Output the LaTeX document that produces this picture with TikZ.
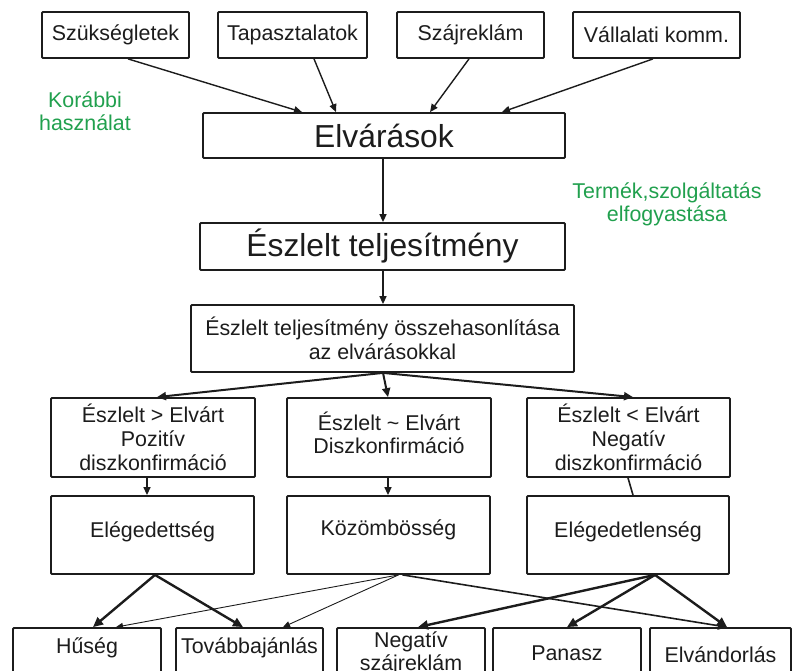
\documentclass[tikz,border=0pt]{standalone}
\usepackage{fontspec}
\setmainfont{Liberation Sans}
\usetikzlibrary{arrows.meta}
\definecolor{ink}{HTML}{1C1C1C}
\definecolor{leafgreen}{HTML}{21A04E}

\tikzset{
  box/.style={draw=ink, line width=1.8pt, rounded corners=1pt, inner sep=0pt,
    text=ink, align=center, font=\fontsize{21.4}{24}\selectfont},
  bigbox/.style={box, font=\fontsize{31.8}{34}\selectfont},
  label/.style={inner sep=0pt, text=ink, align=center, font=\fontsize{21.4}{23}\selectfont},
  note/.style={inner sep=0pt, text=leafgreen, align=center, font=\fontsize{21.4}{23.5}\selectfont},
  link/.style={draw=ink, line width=1.4pt, -{Triangle[length=8pt,width=7pt]}},
  midlink/.style={draw=ink, line width=2pt, -{Triangle[length=9pt,width=8pt]}},
  boldlink/.style={draw=ink, line width=2.4pt, -{Triangle[length=10pt,width=9pt]}},
  thinlink/.style={draw=ink, line width=0.9pt, -{Triangle[length=7pt,width=6pt]}},
  plainlink/.style={draw=ink, line width=1.6pt},
}

\begin{document}
\begin{tikzpicture}[x=1pt, y=-1pt]
  \useasboundingbox (0,0) rectangle (794,671);
  \clip (0,0) rectangle (794,671);

  % sources of expectations
  \node[box, minimum width=147pt, minimum height=46pt] (sz)  at (115.5,35) {Szükségletek};
  \node[box, minimum width=149pt, minimum height=46pt] (ta)  at (292.5,35) {Tapasztalatok};
  \node[box, minimum width=147pt, minimum height=46pt] (szr) at (470.5,35) {Szájreklám};
  \node[box, minimum width=167pt, minimum height=46pt] (vk)  at (656.5,35) {Vállalati komm.};

  \node[note] (kh) at (85,111) {Korábbi\\használat};

  \node[bigbox, minimum width=362pt, minimum height=45pt] (elv) at (384,135.5) {Elvárások};

  \node[note] (tsz) at (667,204.5) {Termék,szolgáltatás\\elfogyastása};

  \node[bigbox, minimum width=365pt, minimum height=47pt] (esz) at (382.5,246.5) {Észlelt teljesítmény};

  \node[box, minimum width=383pt, minimum height=67pt] (cmp) at (382.5,338.5)
    {Észlelt teljesítmény összehasonlítása\\az elvárásokkal};

  % outcomes of the comparison
  \node[box, minimum width=204pt, minimum height=79pt] (pos) at (153,437.5)
    {Észlelt > Elvárt\\Pozitív\\diszkonfirmáció};
  \node[box, minimum width=204pt, minimum height=79pt] (neu) at (389,437.5) {};
  \node[label] (tneu) at (389,433) {Észlelt \textasciitilde{} Elvárt\\Diszkonfirmáció};
  \node[box, minimum width=203pt, minimum height=79pt] (neg) at (628.5,437.5)
    {Észlelt < Elvárt\\Negatív\\diszkonfirmáció};

  \node[box, minimum width=203pt, minimum height=78pt] (sat) at (152.5,535) {};
  \node[box, minimum width=203pt, minimum height=78pt] (ind) at (388.5,535) {};
  \node[box, minimum width=202pt, minimum height=78pt] (dis) at (628,535) {};
  \node[label] (tsat) at (152.5,532) {Elégedettség};
  \node[label] (tind) at (388.5,530) {Közömbösség};
  \node[label] (tdis) at (628,532)   {Elégedetlenség};

  % behavioural consequences (lower part runs past the edge)
  \node[box, minimum width=148pt, minimum height=72pt] (hus)    at (87,664) {};
  \node[box, minimum width=147pt, minimum height=72pt] (tov)    at (249.5,664) {};
  \node[box, minimum width=148pt, minimum height=72pt] (nsz)    at (411,664) {};
  \node[box, minimum width=148pt, minimum height=72pt] (pan)    at (567,664) {};
  \node[box, minimum width=141pt, minimum height=72pt] (elvand) at (720.5,664) {};

  \node[label] (thus)    at (87,648)    {Hűség};
  \node[label] (ttov)    at (249.5,648) {Továbbajánlás};
  \node[label] (tnsz)    at (411,653.5) {Negatív\\szájreklám};
  \node[label] (tpan)    at (567,653)   {Panasz};
  \node[label] (telvand) at (720.5,655) {Elvándorlás};

  % expectations are formed
  \draw[link] ([xshift=12.5pt]sz.south)  -- ([xshift=-82pt]elv.north);
  \draw[link] ([xshift=21.5pt]ta.south)  -- ([xshift=-48pt]elv.north);
  \draw[link] ([xshift=-1.5pt]szr.south) -- ([xshift=46pt]elv.north);
  \draw[link] ([xshift=-3.5pt]vk.south)  -- ([xshift=118pt]elv.north);

  \draw[link] ([xshift=-1pt]elv.south) -- ([xshift=0.5pt]esz.north);
  \draw[link] ([xshift=0.5pt]esz.south) -- ([xshift=0.5pt]cmp.north);

  % comparison outcomes
  \draw[midlink] ([xshift=0.5pt]cmp.south) -- ([xshift=4pt]pos.north);
  \draw[midlink] ([xshift=0.5pt]cmp.south) -- ([xshift=-1pt]neu.north);
  \draw[midlink] ([xshift=0.5pt]cmp.south) -- ([xshift=4.5pt]neg.north);

  \draw[link] ([xshift=-6pt]pos.south) -- ([xshift=-5.5pt]sat.north);
  \draw[link] ([xshift=-1pt]neu.south) -- ([xshift=-0.5pt]ind.north);
  \draw[plainlink] ([xshift=-0.5pt]neg.south) -- ([xshift=5pt]dis.north);

  % consequences
  \draw[boldlink] ([xshift=2.5pt]sat.south) -- ([xshift=6pt]hus.north);
  \draw[boldlink] ([xshift=2.5pt]sat.south) -- ([xshift=-6.5pt]tov.north);

  \draw[thinlink] ([xshift=10pt]ind.south) -- ([xshift=29pt]hus.north);
  \draw[thinlink] ([xshift=10pt]ind.south) -- ([xshift=33.5pt]tov.north);
  \draw[plainlink, -{Triangle[length=9pt,width=8pt]}] ([xshift=14pt]ind.south) -- ([xshift=6.5pt]elvand.north);

  \draw[boldlink] ([xshift=27pt]dis.south) -- ([xshift=7pt]nsz.north);
  \draw[boldlink] ([xshift=27pt]dis.south) -- (pan.north);
  \draw[boldlink] ([xshift=27pt]dis.south) -- ([xshift=6.5pt]elvand.north);
\end{tikzpicture}
\end{document}
